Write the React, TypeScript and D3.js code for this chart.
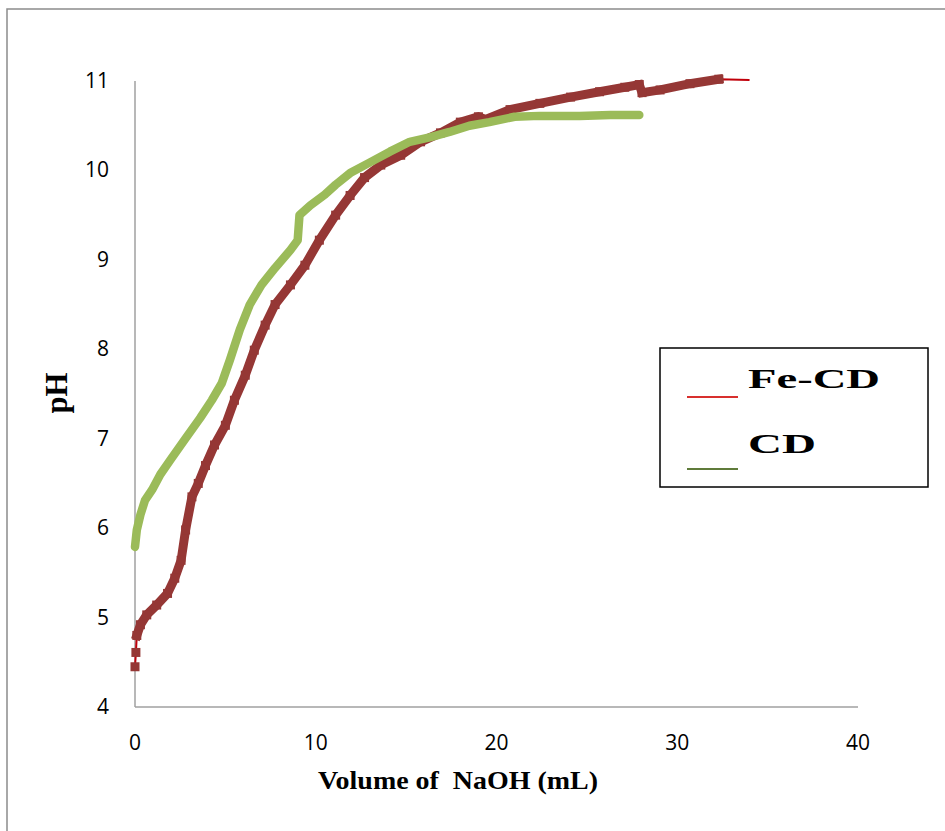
import React from "react";
import * as d3 from "d3";

const feVolume = [0, 0.05, 0.1, 0.3, 0.65, 1.2, 1.8, 2.2, 2.55, 2.8, 3.15, 3.5, 3.9, 4.4, 5.0, 5.5, 6.1, 6.6, 7.2, 7.75, 8.6, 9.4, 10.2, 11.1, 11.9, 12.7, 13.6, 14.7, 15.8, 16.9, 18.0, 19.0, 19.4, 20.75, 22.4, 24.1, 25.7, 27.1, 27.9, 28.05, 29.05, 30.7, 32.3, 34.0];
const fePH = [4.45, 4.61, 4.8, 4.92, 5.03, 5.14, 5.27, 5.44, 5.64, 5.98, 6.35, 6.5, 6.7, 6.93, 7.15, 7.43, 7.71, 7.99, 8.27, 8.5, 8.72, 8.94, 9.22, 9.5, 9.72, 9.92, 10.06, 10.17, 10.32, 10.42, 10.54, 10.6, 10.57, 10.68, 10.75, 10.82, 10.88, 10.93, 10.96, 10.87, 10.9, 10.97, 11.02, 11.01];

const cdVolume = [0, 0.1, 0.3, 0.55, 0.95, 1.4, 1.95, 2.75, 3.6, 4.25, 4.8, 5.25, 5.8, 6.35, 7.0, 7.75, 8.6, 9.0, 9.1, 9.7, 10.5, 11.1, 11.9, 13.0, 14.1, 15.2, 16.3, 17.4, 18.5, 19.6, 21.0, 22.4, 24.6, 26.3, 27.9];
const cdPH = [5.79, 5.98, 6.15, 6.31, 6.43, 6.6, 6.76, 6.99, 7.23, 7.43, 7.62, 7.88, 8.22, 8.5, 8.72, 8.91, 9.11, 9.22, 9.5, 9.61, 9.73, 9.84, 9.97, 10.09, 10.21, 10.32, 10.37, 10.43, 10.5, 10.54, 10.6, 10.61, 10.61, 10.62, 10.62];

const xTicks = [0, 10, 20, 30, 40];
const yTicks = [4, 5, 6, 7, 8, 9, 10, 11];
const seriesNames = ["Fe-CD", "CD"];

const serif = "'Liberation Serif', 'Times New Roman', Times, serif";
const sans = "'Open Sans', 'Liberation Sans', sans-serif";

export default function App() {
  const x = d3.scaleLinear().domain([0, 40]).range([135, 858]);
  const y = d3.scaleLinear().domain([4, 11]).range([707, 81]);

  const fe = feVolume.map((v, i) => [v, fePH[i]] as [number, number]);
  const cd = cdVolume.map((v, i) => [v, cdPH[i]] as [number, number]);

  const line = d3
    .line<[number, number]>()
    .x((d) => x(d[0]))
    .y((d) => y(d[1]));

  const feMarked = fe.slice(0, fe.length - 1);
  const feBand = feMarked.slice(2);

  const markerColor = "#953735";
  const lineRed = "#C0000A";
  const green = "#9BBB59";

  return (
    <svg
      width={945}
      height={831}
      style={{ position: "absolute", left: 0, top: 0, background: "#fff" }}
    >
      <rect x={7} y={9} width={960} height={850} fill="#fff" stroke="#8c8c8c" strokeWidth={1.5} />

      {/* axes */}
      <line x1={x(0)} x2={x(0)} y1={y(11)} y2={y(4)} stroke="#a0a0a0" strokeWidth={1.5} />
      <line x1={x(0)} x2={x(40)} y1={y(4)} y2={y(4)} stroke="#a0a0a0" strokeWidth={1.5} />

      {yTicks.map((t) => (
        <text
          key={"y" + t}
          x={109}
          y={y(t) + 7}
          textAnchor="end"
          fontFamily={sans}
          fontSize={21}
          fill="#000"
        >
          {t}
        </text>
      ))}
      {xTicks.map((t) => (
        <text
          key={"x" + t}
          x={x(t)}
          y={750}
          textAnchor="middle"
          fontFamily={sans}
          fontSize={21}
          fill="#000"
        >
          {t}
        </text>
      ))}

      <text
        x={458}
        y={789}
        textAnchor="middle"
        fontFamily={serif}
        fontWeight="bold"
        fontSize={25}
        textLength={280}
        lengthAdjust="spacingAndGlyphs"
        fill="#000"
        style={{ whiteSpace: "pre" }}
      >
        {"Volume of  NaOH (mL)"}
      </text>
      <text
        transform="translate(67,393) rotate(-90)"
        textAnchor="middle"
        fontFamily={serif}
        fontWeight="bold"
        fontSize={31}
        textLength={41}
        lengthAdjust="spacingAndGlyphs"
        fill="#000"
      >
        pH
      </text>

      {/* Fe-CD series */}
      <path d={line(fe) || ""} fill="none" stroke={lineRed} strokeWidth={2} />
      <path
        d={line(feBand) || ""}
        fill="none"
        stroke={markerColor}
        strokeWidth={9}
        strokeLinejoin="miter"
        strokeLinecap="square"
      />
      {feMarked.map((d, i) => (
        <rect
          key={"m" + i}
          x={x(d[0]) - 4.5}
          y={y(d[1]) - 4.5}
          width={9}
          height={9}
          fill={markerColor}
        />
      ))}

      {/* CD series */}
      <path
        d={line(cd) || ""}
        fill="none"
        stroke={green}
        strokeWidth={8.5}
        strokeLinejoin="round"
        strokeLinecap="round"
      />

      {/* legend */}
      <rect x={660} y={348} width={268} height={139} fill="#fff" stroke="#000" strokeWidth={1.5} />
      <line x1={687} x2={738} y1={397} y2={397} stroke="#D8302E" strokeWidth={2} />
      <line x1={687} x2={738} y1={469} y2={469} stroke="#5F7B3A" strokeWidth={2} />
      <text
        x={748}
        y={388}
        fontFamily={serif}
        fontWeight="bold"
        fontSize={28}
        textLength={132}
        lengthAdjust="spacingAndGlyphs"
        fill="#000"
      >
        {seriesNames[0]}
      </text>
      <text
        x={748}
        y={453}
        fontFamily={serif}
        fontWeight="bold"
        fontSize={28}
        textLength={68}
        lengthAdjust="spacingAndGlyphs"
        fill="#000"
      >
        {seriesNames[1]}
      </text>
    </svg>
  );
}
